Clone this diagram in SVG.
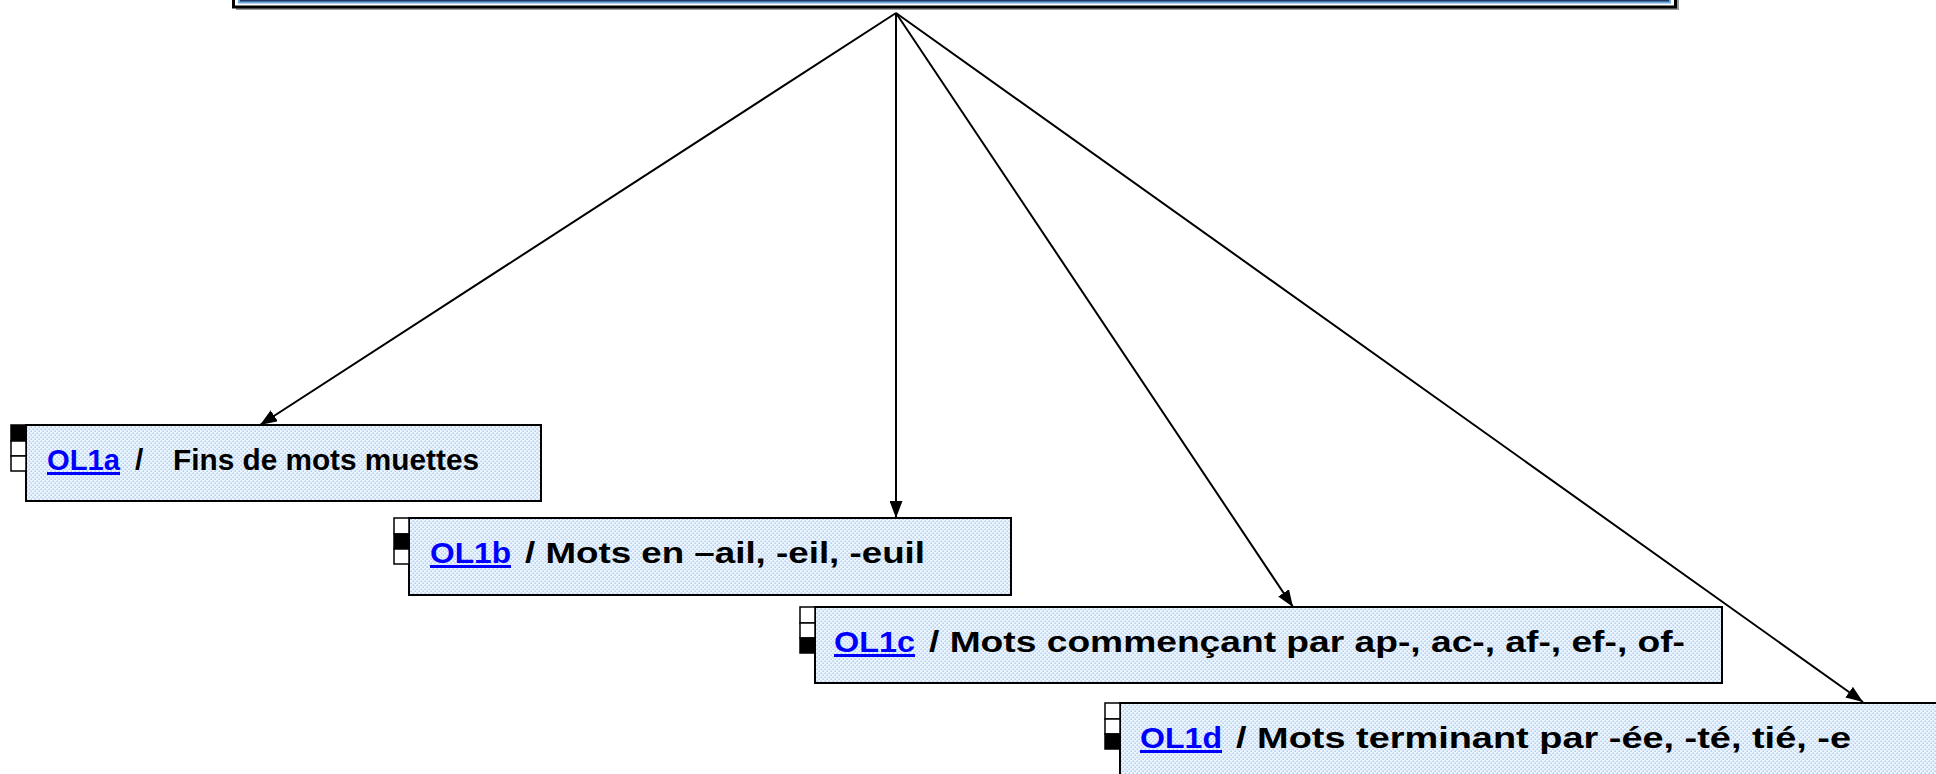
<svg xmlns="http://www.w3.org/2000/svg" width="1936" height="774" viewBox="0 0 1936 774">
<style>
.box{fill:url(#dots);stroke:#000;stroke-width:2}
.sq{fill:#fff;stroke:#000;stroke-width:1.5}
.sqf{fill:#000;stroke:#000;stroke-width:1.5}
.t{font-family:"Liberation Sans",Arial,sans-serif;font-weight:bold;font-size:30px;fill:#000}
.lnk{fill:#0000FF;text-decoration:underline}
.con{stroke:#000;stroke-width:2;fill:none;marker-end:url(#arr)}
</style>
<defs>
<pattern id="dots" width="4" height="4" patternUnits="userSpaceOnUse">
<rect width="4" height="4" fill="#eef5fd"/>
<rect x="0.5" y="0.5" width="1.6" height="1.6" fill="#a9d0f5"/>
<rect x="2.5" y="2.5" width="1.6" height="1.6" fill="#a9d0f5"/>
</pattern>
<marker id="arr" markerWidth="17" markerHeight="13" refX="17" refY="6.5" orient="auto" markerUnits="userSpaceOnUse">
<path d="M0,0 L17,6.5 L0,13 Z" fill="#000"/>
</marker>
</defs>
<rect width="1936" height="774" fill="#fff"/>
<g id="top">
<rect x="236" y="-30" width="1443" height="40" fill="#9a9a9a"/>
<rect x="233.5" y="-30" width="1442" height="37" fill="#fff" stroke="#000" stroke-width="3"/>
<rect x="239" y="-30" width="1431" height="32.5" fill="#1F3864" stroke="#6FA8DC" stroke-width="2"/>
</g>
<g id="connectors">
<line class="con" x1="896" y1="13" x2="260" y2="425"/>
<line class="con" x1="896" y1="13" x2="896" y2="518"/>
<line class="con" x1="896" y1="13" x2="1293" y2="607"/>
<line class="con" x1="896" y1="13" x2="1863" y2="702"/>
</g>
<g id="OL1a">
<rect class="box" x="26" y="425" width="515" height="76"/>
<rect class="sqf" x="11" y="425" width="15" height="16"/>
<rect class="sq" x="11" y="441" width="15" height="15"/>
<rect class="sq" x="11" y="456" width="15" height="15"/>
<text class="t lnk" x="47" y="470" textLength="73" lengthAdjust="spacingAndGlyphs">OL1a</text>
<text class="t" x="135" y="470">/</text>
<text class="t" x="173" y="470" textLength="306" lengthAdjust="spacingAndGlyphs">Fins de mots muettes</text>
</g>
<g id="OL1b">
<rect class="box" x="409" y="518" width="602" height="77"/>
<rect class="sq" x="394" y="518" width="15" height="16"/>
<rect class="sqf" x="394" y="534" width="15" height="15"/>
<rect class="sq" x="394" y="549" width="15" height="15"/>
<text class="t lnk" x="430" y="563" textLength="81" lengthAdjust="spacingAndGlyphs">OL1b</text>
<text class="t" x="525" y="563" textLength="400" lengthAdjust="spacingAndGlyphs">/ Mots en –ail, -eil, -euil</text>
</g>
<g id="OL1c">
<rect class="box" x="815" y="607" width="907" height="76"/>
<rect class="sq" x="800" y="607" width="15" height="16"/>
<rect class="sq" x="800" y="623" width="15" height="15"/>
<rect class="sqf" x="800" y="638" width="15" height="15"/>
<text class="t lnk" x="834" y="652" textLength="81" lengthAdjust="spacingAndGlyphs">OL1c</text>
<text class="t" x="929" y="652" textLength="756" lengthAdjust="spacingAndGlyphs">/ Mots commençant par ap-, ac-, af-, ef-, of-</text>
</g>
<g id="OL1d">
<rect class="box" x="1120" y="703" width="830" height="90"/>
<rect class="sq" x="1105" y="703" width="15" height="16"/>
<rect class="sq" x="1105" y="719" width="15" height="15"/>
<rect class="sqf" x="1105" y="734" width="15" height="15"/>
<text class="t lnk" x="1140" y="748" textLength="82" lengthAdjust="spacingAndGlyphs">OL1d</text>
<text class="t" x="1236" y="748" textLength="615" lengthAdjust="spacingAndGlyphs">/ Mots terminant par -ée, -té, tié, -e</text>
</g>
</svg>
